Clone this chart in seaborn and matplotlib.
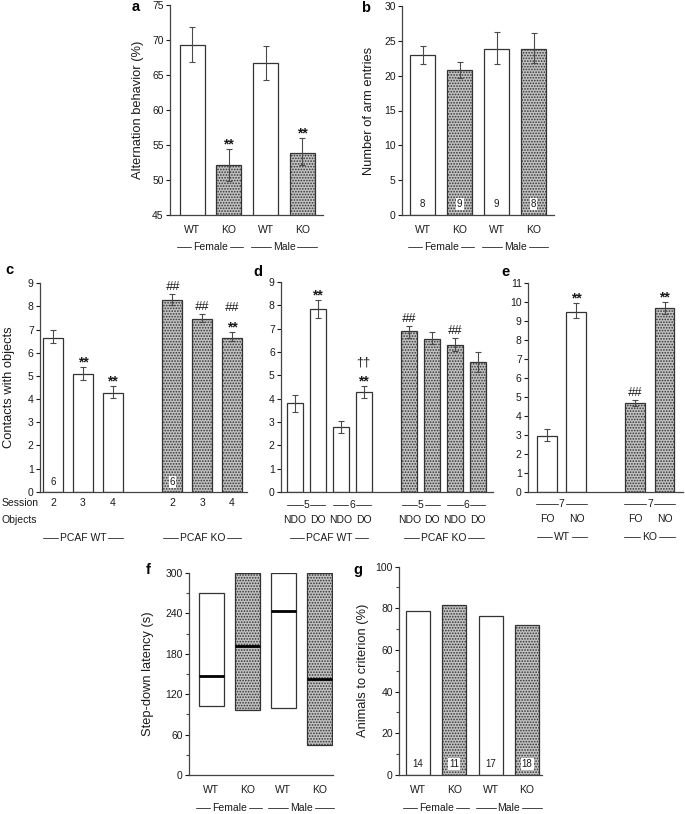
import numpy as np
import pandas as pd
import matplotlib
matplotlib.use("Agg")
import matplotlib.pyplot as plt
from matplotlib.lines import Line2D
from matplotlib.ticker import MultipleLocator
import seaborn as sns

sns.set_style("ticks")
plt.rcParams["font.family"] = ["Liberation Sans", "DejaVu Sans"]
plt.rcParams["hatch.linewidth"] = 0.8

# ---------------- data ----------------
# a: spontaneous alternation
a_keys = ["F-WT", "F-KO", "M-WT", "M-KO"]
a_geno = ["WT", "KO", "WT", "KO"]
a_mean = [69.3, 52.1, 66.7, 53.9]
a_hi = [71.9, 54.4, 69.2, 56.0]
a_lo = [66.9, 49.8, 64.3, 52.1]
a_sig = [[], ["**"], [], ["**"]]

# b: number of arm entries
b_mean = [22.9, 20.8, 23.8, 23.8]
b_hi = [24.2, 22.0, 26.2, 26.1]
b_lo = [21.7, 19.6, 21.7, 21.8]
b_n = ["8", "9", "9", "8"]

sex_keys = ["F-WT", "F-KO", "M-WT", "M-KO"]
sex_geno = ["WT", "KO", "WT", "KO"]
sex_ticks = ["WT", "KO", "WT", "KO"]
sex_groups = ["Female", "Male"]

# c: contacts with objects, sessions 2-4
c_keys = ["WT-2", "WT-3", "WT-4", "KO-2", "KO-3", "KO-4"]
c_order = ["WT-2", "WT-3", "WT-4", "gap", "KO-2", "KO-3", "KO-4"]
c_geno = ["WT", "WT", "WT", "KO", "KO", "KO"]
c_session = ["2", "3", "4", "2", "3", "4"]
c_mean = [6.65, 5.07, 4.25, 8.28, 7.46, 6.65]
c_hi = [6.98, 5.37, 4.58, 8.54, 7.68, 6.88]
c_lo = [6.41, 4.82, 4.03, 8.06, 7.35, 6.51]
c_sig = [[], ["**"], ["**"], ["##"], ["##"], ["**", "##"]]
c_n = ["6", "", "", "6", "", ""]

# d: displaced (DO) / non-displaced (NDO) objects, sessions 5-6
d_keys = ["WT-5N", "WT-5D", "WT-6N", "WT-6D", "KO-5N", "KO-5D", "KO-6N", "KO-6D"]
d_order = ["WT-5N", "WT-5D", "WT-6N", "WT-6D", "gap", "KO-5N", "KO-5D", "KO-6N", "KO-6D"]
d_geno = ["WT"] * 4 + ["KO"] * 4
d_objects = ["NDO", "DO", "NDO", "DO", "NDO", "DO", "NDO", "DO"]
d_session = ["5", "6", "5", "6"]
d_mean = [3.8, 7.85, 2.8, 4.28, 6.88, 6.55, 6.3, 5.57]
d_hi = [4.16, 8.24, 3.05, 4.55, 7.1, 6.84, 6.62, 5.98]
d_lo = [3.45, 7.45, 2.52, 4.02, 6.6, 6.35, 6.05, 5.16]
d_sig = [[], ["**"], [], ["**", "\u2020\u2020"], ["##"], [], ["##"], []]

# e: familiar (FO) / novel (NO) object, session 7
e_keys = ["WT-FO", "WT-NO", "KO-FO", "KO-NO"]
e_order = ["WT-FO", "WT-NO", "gap", "KO-FO", "KO-NO"]
e_geno = ["WT", "WT", "KO", "KO"]
e_objects = ["FO", "NO", "FO", "NO"]
e_mean = [2.95, 9.47, 4.68, 9.68]
e_hi = [3.28, 9.91, 4.83, 10.0]
e_lo = [2.68, 9.12, 4.51, 9.33]
e_sig = [[], ["**"], ["##"], ["**"]]

# f: step-down latency (range and median)
f_low = [103, 97, 99, 45]
f_high = [270, 300, 300, 300]
f_median = [147, 192, 243, 143]

# g: animals to criterion
g_pct = [78.5, 81.5, 76.5, 72.0]
g_n = ["14", "11", "17", "18"]

# ---------------- styling ----------------
W, H = 685, 814
TXT = "#1a1a1a"
EDGE = "#333333"
ERR_C = "#4a4a4a"
FS_TICK = 7.5
FS_LAB = 9.3
BAR_STYLE = {
    "WT": dict(color="white", edgecolor=EDGE, linewidth=0.9),
    "KO": dict(color="#c2c2c2", edgecolor=EDGE, linewidth=0.9, hatch="......"),
}

fig = plt.figure(figsize=(W / 100, H / 100), dpi=100)


def add_ax(l, r, t, b):
    return fig.add_axes([l / W, 1 - b / H, (r - l) / W, (b - t) / H])


def bars(ax, keys, order, geno, values, width):
    df = pd.DataFrame({"key": keys, "geno": geno, "value": values})
    for g in ["WT", "KO"]:
        sub = df[df["geno"] == g]
        sns.barplot(data=sub, x="key", y="value", order=order, ax=ax, width=width,
                    errorbar=None, saturation=1, zorder=2, **BAR_STYLE[g])
    return [order.index(k) for k in keys]


def errbars(ax, pos, mean, lo, hi):
    ax.errorbar(pos, mean, yerr=[np.subtract(mean, lo), np.subtract(hi, mean)], fmt="none",
                ecolor=ERR_C, elinewidth=0.8, capsize=2.2, capthick=0.8, zorder=5)


def sig_marks(ax, pos, hi, sig):
    for p, h, marks in zip(pos, hi, sig):
        off = 0.5
        for m in marks:
            if m == "**":
                kw = dict(fontsize=10, fontweight="bold")
                o = off
            elif m == "##":
                kw = dict(fontsize=9.3, style="italic")
                o = off + 3.5
            else:
                kw = dict(fontsize=9.3)
                o = off + 3.0
            ax.annotate(m, xy=(p, h), xytext=(0, o * 0.72), textcoords="offset points",
                        ha="center", va="baseline", color=TXT, **kw)
            off += 17


def n_labels(ax, pos, ns, geno, y0, off_px):
    for p, n, g in zip(pos, ns, geno):
        if not n:
            continue
        bb = dict(facecolor="white", edgecolor="none", pad=0.8) if g == "KO" else None
        ax.annotate(n, xy=(p, y0), xytext=(0, off_px * 0.72), textcoords="offset points",
                    ha="center", va="center", fontsize=7, color=TXT, bbox=bb, zorder=6)


def style_ax(ax, xlim, ylim, major, minor=None, ticklabels=None, pos=None, xpad=6.9):
    ax.set_xlim(xlim)
    ax.set_ylim(ylim)
    ax.yaxis.set_major_locator(MultipleLocator(major))
    if minor:
        ax.yaxis.set_minor_locator(MultipleLocator(minor))
    sns.despine(ax=ax)
    for s in ["left", "bottom"]:
        ax.spines[s].set_color("#444444")
        ax.spines[s].set_linewidth(0.9)
    ax.set_xticks(pos)
    ax.set_xticklabels(ticklabels)
    ax.tick_params(axis="x", length=0, labelsize=FS_TICK, pad=xpad, colors=TXT)
    ax.tick_params(axis="y", which="major", length=3, width=0.8, labelsize=FS_TICK, pad=1.5,
                   colors=TXT)
    ax.tick_params(axis="y", which="minor", length=2, width=0.8, colors="#444444")
    ax.set_xlabel("")
    ax.set_ylabel("")


def ylabel(ax, text, xpx, ax_l, ax_r):
    ax.set_ylabel(text, fontsize=FS_LAB, color=TXT)
    ax.yaxis.label.set_verticalalignment("center")
    ax.yaxis.set_label_coords((xpx - ax_l) / (ax_r - ax_l), 0.5)


# ---------------- a ----------------
ax_a = add_ax(170, 323, 5, 215)
pa = bars(ax_a, sex_keys, sex_keys, sex_geno, a_mean, 0.68)
errbars(ax_a, pa, a_mean, a_lo, a_hi)
sig_marks(ax_a, pa, a_hi, a_sig)
style_ax(ax_a, (-0.60, 3.56), (45, 75), 5, ticklabels=sex_ticks, pos=pa)
ylabel(ax_a, "Alternation behavior (%)", 138, 170, 323)

# ---------------- b ----------------
ax_b = add_ax(402, 554, 6, 215)
pb = bars(ax_b, sex_keys, sex_keys, sex_geno, b_mean, 0.67)
errbars(ax_b, pb, b_mean, b_lo, b_hi)
n_labels(ax_b, pb, b_n, sex_geno, 0, 11)
style_ax(ax_b, (-0.56, 3.55), (0, 30), 5, ticklabels=sex_ticks, pos=pb)
ylabel(ax_b, "Number of arm entries", 369, 402, 554)

# ---------------- c ----------------
ax_c = add_ax(40, 247, 283.3, 491.7)
pc = bars(ax_c, c_keys, c_order, c_geno, c_mean, 0.67)
errbars(ax_c, pc, c_mean, c_lo, c_hi)
sig_marks(ax_c, pc, c_hi, c_sig)
n_labels(ax_c, pc, c_n, c_geno, 0, 9.7)
style_ax(ax_c, (-0.44, 6.50), (0, 9), 1, ticklabels=c_session, pos=pc, xpad=4.2)
ylabel(ax_c, "Contacts with objects", 9, 40, 247)

# ---------------- d ----------------
ax_d = add_ax(281, 493, 282, 492)
pd_ = bars(ax_d, d_keys, d_order, d_geno, d_mean, 0.70)
errbars(ax_d, pd_, d_mean, d_lo, d_hi)
sig_marks(ax_d, pd_, d_hi, d_sig)
style_ax(ax_d, (-0.61, 8.66), (0, 9), 1, ticklabels=d_objects, pos=pd_, xpad=16.3)

# ---------------- e ----------------
ax_e = add_ax(528, 683, 282.7, 491.7)
pe = bars(ax_e, e_keys, e_order, e_geno, e_mean, 0.68)
errbars(ax_e, pe, e_mean, e_lo, e_hi)
sig_marks(ax_e, pe, e_hi, e_sig)
style_ax(ax_e, (-0.65, 4.63), (0, 11), 1, ticklabels=e_objects, pos=pe, xpad=15.8)

# ---------------- f ----------------
ax_f = add_ax(189, 333, 573, 775)
df_f = pd.DataFrame({"key": sex_keys, "geno": sex_geno, "high": f_high})
for g in ["WT", "KO"]:
    before = len(ax_f.patches)
    sns.barplot(data=df_f[df_f["geno"] == g], x="key", y="high", order=sex_keys, ax=ax_f,
                width=0.69, errorbar=None, saturation=1, zorder=2, **BAR_STYLE[g])
    for patch in ax_f.patches[before:]:
        i = int(round(patch.get_x() + patch.get_width() / 2))
        patch.set_y(f_low[i])
        patch.set_height(f_high[i] - f_low[i])
pf = list(range(len(sex_keys)))
ax_f.hlines(f_median, np.subtract(pf, 0.345), np.add(pf, 0.345), colors="black",
            linewidth=2.0, zorder=4)
style_ax(ax_f, (-0.62, 3.375), (0, 300), 60, minor=30, ticklabels=sex_ticks, pos=pf)
ylabel(ax_f, "Step-down latency (s)", 148, 189, 333)

# ---------------- g ----------------
ax_g = add_ax(399, 542, 566.6, 775)
pg = bars(ax_g, sex_keys, sex_keys, sex_geno, g_pct, 0.66)
n_labels(ax_g, pg, g_n, sex_geno, 0, 11)
style_ax(ax_g, (-0.52, 3.41), (0, 100), 20, minor=10, ticklabels=sex_ticks, pos=pg)
ylabel(ax_g, "Animals to criterion (%)", 363, 399, 542)

# ---------------- group labels ----------------
renderer = fig.canvas.get_renderer()


def group_label(ax, xc, ypx, text, span_px, fs=7.5, gap_px=2.0):
    xd = ax.transData.transform((xc, 0))[0]
    yd = H - ypx
    t = fig.text(xd / W, yd / H, text, ha="center", va="center", fontsize=fs, color=TXT)
    bb = t.get_window_extent(renderer)
    yl = yd + 0.5
    for x0, x1 in [(xd - span_px / 2, bb.x0 - gap_px), (bb.x1 + gap_px, xd + span_px / 2)]:
        fig.add_artist(Line2D([x0 / W, x1 / W], [yl / H, yl / H], transform=fig.transFigure,
                              color="#444444", linewidth=0.7))


for ax in [ax_a, ax_b]:
    group_label(ax, 0.5, 247, sex_groups[0], 66)
    group_label(ax, 2.5, 247, sex_groups[1], 66)
for ax in [ax_f, ax_g]:
    group_label(ax, 0.5, 808, sex_groups[0], 66)
    group_label(ax, 2.5, 808, sex_groups[1], 66)

group_label(ax_c, 1, 538, "PCAF WT", 80)
group_label(ax_c, 5, 538, "PCAF KO", 78)
for xc, s in zip([0.5, 2.5, 5.5, 7.5], d_session + d_session):
    group_label(ax_d, xc, 505, s, 38, gap_px=1.0)
group_label(ax_d, 1.5, 538, "PCAF WT", 78)
group_label(ax_d, 6.5, 538, "PCAF KO", 80)
group_label(ax_e, 0.5, 504, "7", 51, gap_px=1.0)
group_label(ax_e, 3.5, 504, "7", 51, gap_px=1.0)
group_label(ax_e, 0.5, 537, "WT", 50)
group_label(ax_e, 3.5, 537, "KO", 51)

fig.text(2 / W, 1 - 503 / H, "Session", ha="left", va="center", fontsize=FS_TICK, color=TXT)
fig.text(2 / W, 1 - 520 / H, "Objects", ha="left", va="center", fontsize=FS_TICK, color=TXT)

# ---------------- panel letters ----------------
for letter, x, y in [("a", 136, 7), ("b", 366, 8), ("c", 9, 270), ("d", 258, 272),
                     ("e", 505, 272), ("f", 148, 570), ("g", 358, 570)]:
    fig.text(x / W, 1 - y / H, letter, ha="center", va="center", fontsize=10.5,
             fontweight="bold", color="black")

fig.savefig("out.png", dpi=100)
